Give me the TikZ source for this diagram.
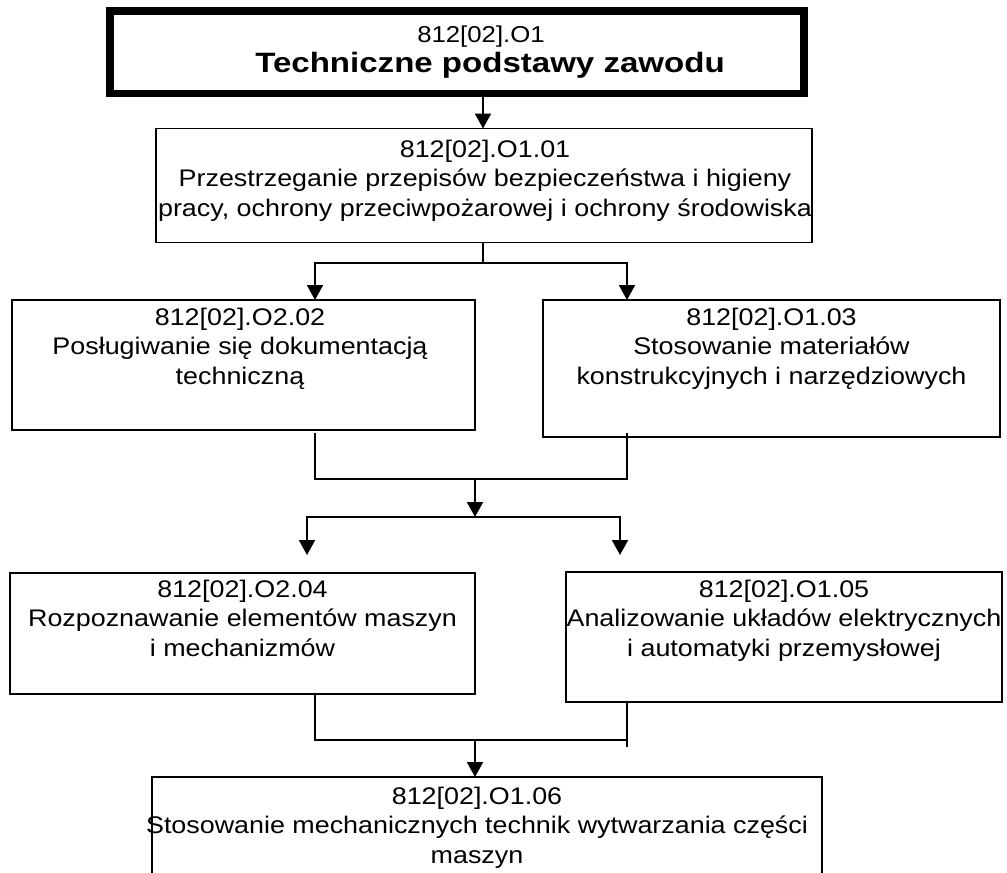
\documentclass[tikz,border=0pt]{standalone}
\usepackage{fontspec}
\setmainfont{Liberation Sans}[FakeStretch=1.12]
\newfontfamily\titlefont{Liberation Sans}[FakeStretch=1.18]
\usetikzlibrary{arrows.meta}
\begin{document}
\begin{tikzpicture}[x=1pt,y=-1pt,
 box/.style={draw, line width=1.5pt, rectangle, inner sep=0pt, outer sep=0pt, anchor=north west},
 thickbox/.style={box, line width=7.5pt},
 txt/.style={align=center, font=\fontsize{24}{29.5}\selectfont, inner sep=0pt, anchor=base},
 smalltxt/.style={txt, font=\fontsize{23}{28}\selectfont},
 bigtxt/.style={txt, font=\fontsize{28}{34}\titlefont\bfseries},
 conn/.style={line width=2pt},
 arr/.style={conn, -{Triangle[width=16pt,length=15pt]}}]
\useasboundingbox (0,0) rectangle (1007,873);
\fill[white] (0,0) rectangle (1007,873);
\clip (0,0) rectangle (1007,873);
% boxes
\node[thickbox, minimum width=694pt, minimum height=82.5pt] (b1) at (109.75,10.75) {};
\node[box, minimum width=656pt, minimum height=114pt] (b2) at (156,128.5) {};
\node[box, minimum width=463pt, minimum height=130pt] (b3) at (12,300) {};
\node[box, minimum width=457pt, minimum height=137pt] (b4) at (543,300) {};
\node[box, minimum width=465pt, minimum height=121pt] (b5) at (10,573) {};
\node[box, minimum width=436pt, minimum height=130pt] (b6) at (566,572) {};
\node[box, minimum width=670pt, minimum height=140pt] (b7) at (152,777) {};
% texts (base anchor = baseline of last line)
\node[smalltxt] (t1a) at (481,42) {812[02].O1};
\node[bigtxt] (t1b) at (490,72) {Techniczne podstawy zawodu};
\node[txt] (t2) at (485,216) {812[02].O1.01\\Przestrzeganie przepisów bezpieczeństwa i higieny\\pracy, ochrony przeciwpożarowej i ochrony środowiska};
\node[txt] (t3) at (240,384) {812[02].O2.02\\Posługiwanie się dokumentacją\\techniczną};
\node[txt] (t4) at (771.5,384) {812[02].O1.03\\Stosowanie materiałów\\konstrukcyjnych i narzędziowych};
\node[txt] (t5) at (242.5,656) {812[02].O2.04\\Rozpoznawanie elementów maszyn\\i mechanizmów};
\node[txt] (t6) at (784,656) {812[02].O1.05\\Analizowanie układów elektrycznych\\i automatyki przemysłowej};
\node[txt] (t7) at (477,863) {812[02].O1.06\\Stosowanie mechanicznych technik wytwarzania części\\maszyn};
% junction coordinates
\coordinate (xa) at (483,0);
\coordinate (j1) at (483,263);
\coordinate (j1l) at (315,263);
\coordinate (j1r) at (627,263);
\coordinate (s3) at (315,433);
\coordinate (s4) at (627,433);
\coordinate (j2) at (475,479);
\coordinate (j3) at (475,517);
\coordinate (e5) at (307,555);
\coordinate (e6) at (620,555);
\coordinate (j4) at (475,740);
\coordinate (e7) at (627,747);
% connectors
\draw[arr] (b1.south -| xa) -- (b2.north -| xa);
\draw[arr] (b2.south -| j1) -- (j1) -| (b3.north -| j1l);
\draw[arr] (j1) -| (b4.north -| j1r);
\draw[conn] (s3) |- (j2) -| (s4);
\draw[arr] (j2) -- (j3);
\draw[arr] (j3) -| (e5);
\draw[arr] (j3) -| (e6);
\draw[conn] (b5.south -| s3) |- (j4) -| (e7);
\draw[conn] (b6.south -| e7) -- (e7);
\draw[arr] (j4) -- (b7.north -| j4);
\end{tikzpicture}
\end{document}
